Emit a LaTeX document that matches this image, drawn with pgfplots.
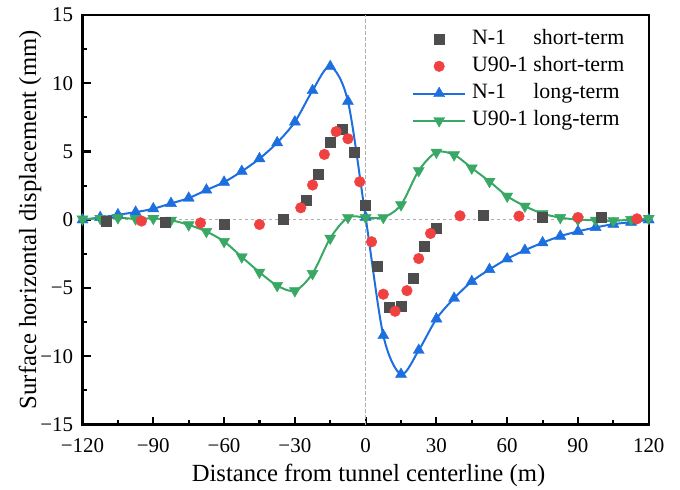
\documentclass[border=0pt]{standalone}
\usepackage{fontspec}
\setmainfont{Liberation Serif}
\usepackage{pgfplots}
\pgfplotsset{compat=1.18}
\definecolor{cgray}{RGB}{77,77,77}
\definecolor{cred}{RGB}{240,64,64}
\definecolor{cblue}{RGB}{29,110,222}
\definecolor{cgreen}{RGB}{56,168,100}
\definecolor{czero}{RGB}{175,175,175}
\begin{document}
\begin{tikzpicture}
\useasboundingbox (-61.9pt,-48.4pt) rectangle (448.1pt,318.4pt);
\begin{axis}[
  at={(0,0)}, anchor=south west,
  scale only axis, width=424.65pt, height=307.1pt,
  xmin=-120, xmax=120, ymin=-15, ymax=15,
  xtick={-120,-90,...,120},
  xticklabels={−120,−90,−60,−30,0,30,60,90,120},
  ytick={-15,-10,...,15},
  yticklabels={−15,−10,−5,0,5,10,15},
  minor x tick num=1, minor y tick num=1,
  tick pos=left, tick align=inside,
  major tick length=6pt, minor tick length=3.2pt,
  major tick style={black, line width=1.6pt},
  minor tick style={black, line width=1.6pt},
  axis line style={line width=1.8pt},
  tick label style={font=\fontsize{15.7}{18}\selectfont},
  xticklabel style={anchor=base, inner sep=0pt, yshift=-21.2pt},
  yticklabel style={anchor=east, inner sep=0pt, xshift=-6.9pt},
  label style={font=\fontsize{18.5}{22}\selectfont},
  xlabel={Distance from tunnel centerline (m)},
  ylabel={Surface horizontal displacement (mm)},
  xlabel style={at={(axis description cs:0.505,-0.1397)}, anchor=base, inner sep=0pt},
  ylabel style={at={(axis description cs:-0.082,0.5)}, anchor=base, inner sep=0pt},
  legend style={draw=none, fill=none, at={(axis description cs:0.5814,0.974)},
    anchor=north west, inner sep=0pt, row sep=0.7pt, column sep=4.3pt,
    nodes={inner sep=0pt, text height=13.8pt, text depth=5.9pt},
    font=\fontsize{16.4}{19.7}\selectfont},
  legend cell align=left,
  legend image code/.code={\draw[mark repeat=2,mark phase=2] plot coordinates {(0cm,0cm) (0.69cm,0cm) (1.38cm,0cm)};},
]
\addplot[forget plot, czero, line width=1pt, dash pattern=on 2.5pt off 2pt] coordinates {(-120,0) (120,0)};
\addplot[forget plot, czero, line width=1pt, dash pattern=on 2.5pt off 2pt] coordinates {(0,-15) (0,15)};

\addlegendimage{only marks, mark=square*, mark size=3.75pt, mark options={fill=cgray, draw=cgray, line width=0.3pt}}
\addlegendentry{\rlap{N-1}\phantom{U90-1} short-term}
\addlegendimage{only marks, mark=*, mark size=4pt, mark options={fill=cred, draw=cred, line width=0.3pt}}
\addlegendentry{U90-1 short-term}
\addlegendimage{cblue, line width=1.5pt, mark=triangle*, mark size=4.8pt, mark options={solid, fill=cblue, draw=cblue, line width=0.3pt}}
\addlegendentry{\rlap{N-1}\phantom{U90-1} long-term}
\addlegendimage{cgreen, line width=1.5pt, mark=triangle*, mark size=4.8pt, mark options={solid, rotate=180, fill=cgreen, draw=cgreen, line width=0.3pt}}
\addlegendentry{U90-1 long-term}

\addplot[forget plot, cblue, line width=1.5pt, smooth, mark=triangle*, mark size=4.8pt, mark options={solid, fill=cblue, draw=cblue, line width=0.3pt}] coordinates {
(-120,0) (-112.5,0.17) (-105,0.37) (-97.5,0.56) (-90,0.81) (-82.5,1.2) (-75,1.59) (-67.5,2.18) (-60,2.76) (-52.5,3.55) (-45,4.48) (-37.5,5.65) (-30,7.17) (-22.5,9.47) (-15,11.23) (-7.5,8.68) (0,0.18) (7.5,-8.48) (15,-11.32) (22.5,-9.56) (30,-7.26) (37.5,-5.75) (45,-4.52) (52.5,-3.64) (60,-2.86) (67.5,-2.23) (75,-1.68) (82.5,-1.2) (90,-0.85) (97.5,-0.56) (105,-0.32) (112.5,-0.17) (120,0)};

\addplot[forget plot, cgreen, line width=1.5pt, smooth, mark=triangle*, mark size=4.8pt, mark options={solid, rotate=180, fill=cgreen, draw=cgreen, line width=0.3pt}] coordinates {
(-120,0.05) (-112.5,0.1) (-105,0.15) (-97.5,0.07) (-90,0.1) (-82.5,-0.03) (-75,-0.37) (-67.5,-0.86) (-60,-1.59) (-52.5,-2.72) (-45,-3.84) (-37.5,-4.82) (-30,-5.2) (-22.5,-3.94) (-15,-1.35) (-7.5,0.17) (0,0.17) (7.5,0.17) (15,1.1) (22.5,3.6) (30,4.95) (37.5,4.76) (45,3.79) (52.5,2.81) (60,1.73) (67.5,1.0) (75,0.45) (82.5,0.16) (90,0.01) (97.5,-0.03) (105,-0.08) (112.5,0.02) (120,0.1)};

\addplot[forget plot, only marks, mark=square*, mark size=3.75pt, mark options={fill=cgray, draw=cgray, line width=0.3pt}] coordinates {
(-110,-0.12) (-85,-0.18) (-60,-0.32) (-35,0.05) (-25,1.41) (-20,3.37) (-15,5.66) (-10,6.65) (-5,4.94) (0,1.08) (5,-3.38) (10,-6.41) (15,-6.36) (20,-4.26) (25,-1.96) (30,-0.64) (50,0.37) (75,0.18) (100,0.17)};

\addplot[forget plot, only marks, mark=*, mark size=4pt, mark options={fill=cred, draw=cred, line width=0.3pt}] coordinates {
(-95,-0.09) (-70,-0.23) (-45,-0.34) (-27.5,0.88) (-22.5,2.55) (-17.5,4.79) (-12.5,6.46) (-7.5,5.94) (-2.5,2.79) (2.5,-1.61) (7.5,-5.45) (12.5,-6.7) (17.5,-5.19) (22.5,-2.84) (27.5,-1.0) (40,0.29) (65,0.27) (90,0.17) (115,0.07)};
\end{axis}
\end{tikzpicture}
\end{document}
